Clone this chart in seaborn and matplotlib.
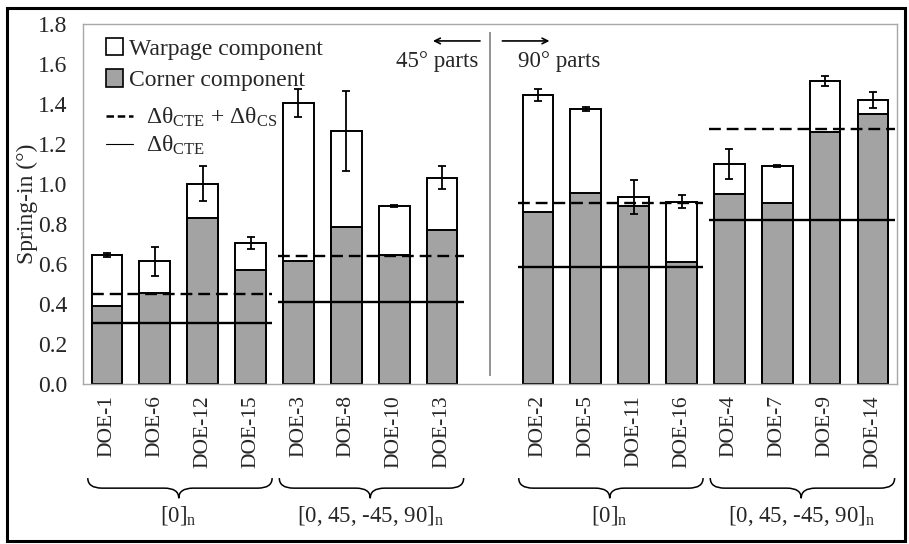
import numpy as np
import pandas as pd
import seaborn as sns
import matplotlib.pyplot as plt
from matplotlib.path import Path
from matplotlib.patches import PathPatch, Patch, Rectangle
from matplotlib.lines import Line2D
import matplotlib.transforms as mtransforms

# Spring-in data (degrees)
labels = ['DOE-1', 'DOE-6', 'DOE-12', 'DOE-15', 'DOE-3', 'DOE-8', 'DOE-10', 'DOE-13',
          'DOE-2', 'DOE-5', 'DOE-11', 'DOE-16', 'DOE-4', 'DOE-7', 'DOE-9', 'DOE-14']
corner = [0.388, 0.455, 0.831, 0.572, 0.614, 0.784, 0.647, 0.772,
          0.859, 0.956, 0.889, 0.612, 0.949, 0.906, 1.258, 1.349]
total = [0.647, 0.614, 1.002, 0.705, 1.403, 1.266, 0.889, 1.032,
         1.446, 1.374, 0.936, 0.911, 1.100, 1.091, 1.514, 1.419]
err = [0.010, 0.072, 0.087, 0.032, 0.070, 0.200, 0.004, 0.058,
       0.031, 0.010, 0.084, 0.032, 0.077, 0.005, 0.026, 0.040]

# layup groups and the predicted spring-in lines for each
group_names = [r'[0]$_{\mathrm{n}}$', r'[0, 45, -45, 90]$_{\mathrm{n}}$',
               r'[0]$_{\mathrm{n}}$', r'[0, 45, -45, 90]$_{\mathrm{n}}$']
group_members = [labels[0:4], labels[4:8], labels[8:12], labels[12:16]]
cte_cs = [0.450, 0.640, 0.905, 1.277]
cte = [0.304, 0.410, 0.585, 0.819]

df = pd.DataFrame({'label': labels, 'corner': corner, 'total': total, 'err': err})
order = labels[:8] + [' '] + labels[8:]

sns.set_style('white')
plt.rcParams['font.family'] = ['Liberation Serif', 'DejaVu Serif']
plt.rcParams['mathtext.fontset'] = 'custom'
plt.rcParams['mathtext.rm'] = 'Liberation Serif'
plt.rcParams['mathtext.it'] = 'Liberation Serif:italic'

fig = plt.figure(figsize=(9.09, 5.44), dpi=100)
ax = fig.add_axes([0.0913, 0.294, 0.8955, 0.662])

bar_gray = '#a3a3a3'
axis_gray = '#a8a8a8'
fs = 16.5

# white = total spring-in (warpage on top), gray = corner component
sns.barplot(data=df, x='label', y='total', order=order, color='white',
            edgecolor='black', linewidth=1.4, width=0.64, ax=ax)
sns.barplot(data=df, x='label', y='corner', order=order, color=bar_gray,
            edgecolor='black', linewidth=1.4, width=0.64, ax=ax)

xpos = [order.index(l) for l in labels]
ax.errorbar(xpos, df['total'], yerr=df['err'], fmt='none', ecolor='black',
            elinewidth=1.3, capsize=3, capthick=1.3, zorder=5)

# predicted lines per group
for members, v1, v2 in zip(group_members, cte_cs, cte):
    p = [order.index(m) for m in members]
    x0 = max(p[0] - 0.42, -0.32)
    x1 = p[-1] + 0.45
    ax.hlines(v1, x0, x1, colors='black', linestyles=(0, (5, 2.5)), linewidth=1.7, zorder=4)
    ax.hlines(v2, x0, x1, colors='black', linestyles='solid', linewidth=1.7, zorder=4)

# divider between 45 and 90 degree parts
mid = order.index(' ')
ax.vlines(mid, 0.04, 1.76, colors='#808080', linewidth=1.2)
ax.annotate('', xy=(mid - 1.25, 1.715), xytext=(mid - 0.15, 1.715),
            arrowprops=dict(arrowstyle='->', color='black', lw=1.2))
ax.annotate('', xy=(mid + 1.3, 1.715), xytext=(mid + 0.2, 1.715),
            arrowprops=dict(arrowstyle='->', color='black', lw=1.2))
ax.text(mid - 1.1, 1.61, '45° parts', ha='center', va='center', fontsize=fs)
ax.text(mid + 1.45, 1.61, '90° parts', ha='center', va='center', fontsize=fs)

ax.set_ylim(0, 1.8)
ax.set_xlim(-0.5, len(order) - 0.5)
ax.set_yticks(np.arange(0, 1.81, 0.2))
ax.set_yticklabels(['%.1f' % v for v in np.arange(0, 1.81, 0.2)], fontsize=fs + 0.5)
ax.set_xticks(range(len(order)))
ax.set_xticklabels(order, rotation=90, fontsize=15.5)
ax.set_xticks(np.arange(-0.5, len(order), 1), minor=True)
ax.tick_params(axis='x', which='major', length=0, pad=8)
ax.tick_params(axis='x', which='minor', length=5, color=axis_gray, width=1, direction='out')
ax.tick_params(axis='y', length=5, color=axis_gray, width=1, direction='out', pad=6)
ax.set_xlabel('')
ax.set_ylabel('Spring-in (°)', fontsize=fs + 0.5, labelpad=0)
for s in ax.spines.values():
    s.set_color(axis_gray)
    s.set_linewidth(1.0)
    s.set_visible(True)

# legends: patches and lines separately
patch_handles = [Patch(facecolor='white', edgecolor='black', linewidth=1.2, label='Warpage component'),
                 Patch(facecolor=bar_gray, edgecolor='black', linewidth=1.2, label='Corner component')]
leg1 = ax.legend(handles=patch_handles, loc='upper left', bbox_to_anchor=(0.028, 0.962),
                 frameon=False, fontsize=17, handlelength=0.75, handleheight=0.75,
                 handletextpad=0.25, borderaxespad=0, borderpad=0, labelspacing=0.42)
ax.add_artist(leg1)
line_handles = [Line2D([], [], color='black', linestyle=(0, (3, 1.5)), linewidth=1.8,
                       label=r'Δθ$_{\mathrm{CTE}}$ + Δθ$_{\mathrm{CS}}$'),
                Line2D([], [], color='black', linestyle='solid', linewidth=0.8,
                       label=r'Δθ$_{\mathrm{CTE}}$')]
ax.legend(handles=line_handles, loc='upper left', bbox_to_anchor=(0.028, 0.772),
          frameon=False, fontsize=17, handlelength=1.15, handletextpad=0.55,
          borderaxespad=0, borderpad=0, labelspacing=0.2)

# curly braces under the tick labels
trans = mtransforms.blended_transform_factory(ax.transData, ax.transAxes)
ytop, h, r = -0.261, 0.056, 0.3
for members, name in zip(group_members, group_names):
    p = [order.index(m) for m in members]
    x0, x1 = p[0] - 0.4, p[-1] + 0.45
    xm = (p[0] + p[-1]) / 2
    ym = ytop - h / 2
    verts = [(x0, ytop), (x0, ym), (x0 + r, ym),
             (xm - r, ym),
             (xm, ym), (xm, ytop - h),
             (xm, ym), (xm + r, ym),
             (x1 - r, ym),
             (x1, ym), (x1, ytop)]
    codes = [Path.MOVETO, Path.CURVE3, Path.CURVE3,
             Path.LINETO,
             Path.CURVE3, Path.CURVE3,
             Path.CURVE3, Path.CURVE3,
             Path.LINETO,
             Path.CURVE3, Path.CURVE3]
    ax.add_patch(PathPatch(Path(verts, codes), transform=trans, fill=False,
                           edgecolor='black', linewidth=1.1, clip_on=False))
    ax.text(xm, -0.366, name, transform=trans, ha='center', va='center', fontsize=fs)

# outer black frame
fig.add_artist(Rectangle((0.0077, 0.006), 0.988, 0.979, transform=fig.transFigure,
                         fill=False, edgecolor='black', linewidth=2.2))

plt.savefig('out.png', dpi=100)
